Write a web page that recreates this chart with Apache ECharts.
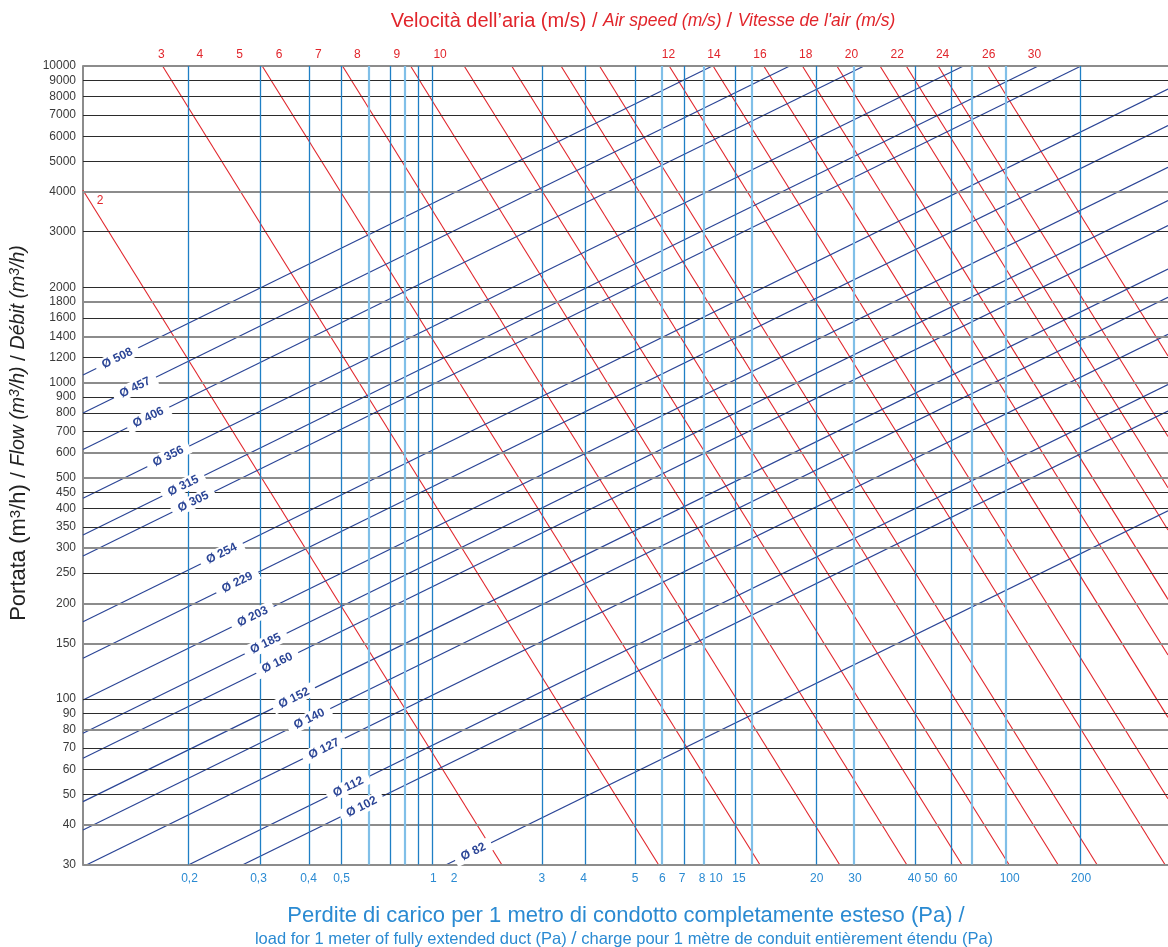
<!DOCTYPE html>
<html><head><meta charset="utf-8">
<script src="https://cdn.jsdelivr.net/npm/echarts/dist/echarts.min.js"></script>
<style>html,body{margin:0;padding:0;background:#fff}#c{width:1168px;height:947px}</style>
</head><body><div id="c"></div>
<script>
// ---------- DATA ----------
// Flow axis (m3/h) tick values
const flowTicks = [10000,9000,8000,7000,6000,5000,4000,3000,2000,1800,1600,1400,1200,1000,900,800,700,600,500,450,400,350,300,250,200,150,100,90,80,70,60,50,40,30];
// Pressure-loss axis: vertical grid lines (Pa, on the chart's log scale)
const pressureGrid = [0.1414,0.2459,0.368,0.4834,0.598,0.714,0.801,0.891,1.005,2.407,3.419,5.113,6.33,7.57,8.86,11.44,13.02,21.95,29.7,48.6,64.9,76.7,100.6,184.0];
// Pressure-loss tick labels as printed, and where they are printed
const pressureLabels = ['0,2','0,3','0,4','0,5','1','2','3','4','5','6','7','8','10','15','20','30','40','50','60','100','200'];
const pressureLabelAt = [0.1414,0.2463,0.3683,0.4803,1.005,1.188,2.41,3.37,5.1,6.35,7.44,8.74,9.78,11.77,22.0,29.9,48.3,55.2,64.6,103.9,184.5];
// Duct diameters: start / end points [Pa, m3/h] and label point
const diameters = ['Ø 508','Ø 457','Ø 406','Ø 356','Ø 315','Ø 305','Ø 254','Ø 229','Ø 203','Ø 185','Ø 160','Ø 152','Ø 140','Ø 127','Ø 112','Ø 102','Ø 82'];
const ductStart = [[0.06,1056],[0.06,801],[0.06,614.2],[0.06,430.7],[0.06,329.8],[0.06,283.1],[0.06,175.5],[0.06,134.5],[0.06,99.3],[0.06,77.9],[0.06,64.96],[0.06,47.4],[0.06,38.56],[0.0621,30],[0.1411,30],[0.218,30],[1.12,30]];
const ductEnd = [[9.492,10000],[17.69,10000],[32.18,10000],[71.6,10000],[130.7,10000],[184.5,10000],[371.4,8459],[371.4,6481],[371.4,4786],[371.4,3756],[371.4,3131],[371.4,2284],[371.4,1859],[371.4,1419],[371.4,985.5],[371.4,812.6],[371.4,393.3]];
const ductLabelAt = [[0.07906,1193],[0.09119,964.3],[0.1015,775.6],[0.1192,584.3],[0.1345,471.8],[0.1458,419.9],[0.1832,288.1],[0.2077,233.4],[0.2350,182.0],[0.2610,149.6],[0.2865,130.0],[0.3278,100.7],[0.3707,86.5],[0.4172,69.6],[0.5073,52.76],[0.5651,45.62],[1.387,32.88]];
// Air speed lines (m/s): start / end points [Pa, m3/h] and label point
const speeds = [2,3,4,5,6,7,8,9,10,12,14,16,18,20,22,24,26,30];
const speedStart = [[0.06,4050],[0.1138,10000],[0.2537,10000],[0.4842,10000],[0.8375,10000],[1.289,10000],[1.889,10000],[2.810,10000],[3.830,10000],[6.711,10000],[9.553,10000],[14.36,10000],[19.60,10000],[25.87,10000],[36.60,10000],[45.18,10000],[58.41,10000],[87.27,10000]];
const speedEnd = [[1.743,30],[6.152,30],[13.91,30],[26.42,30],[45.33,30],[70.69,30],[103.3,30],[153.2,30],[209.7,30],[362.3,30],[371.4,48.4],[371.4,87.5],[371.4,137.7],[371.4,206.4],[371.4,342.0],[371.4,464.9],[371.4,675.5],[371.4,1213]];
const speedLabelAt = [[0.0688,3745],[0.1128,10000],[0.1536,10000],[0.2116,10000],[0.2905,10000],[0.3988,10000],[0.5459,10000],[0.7501,10000],[1.062,10000],[6.673,10000],[9.614,10000],[13.93,10000],[20.13,10000],[29.09,10000],[42.03,10000],[60.56,10000],[87.76,10000],[126.9,10000]];

// ---------- STYLE ----------
const FONT = '"Liberation Sans", Arial, Helvetica, sans-serif';
const RED = '#e1252b', NAVY = '#2b4596', BLUE = '#1f7fc5', LIGHT = '#80bfe8', LBL = '#2a8ad2';
const grayFlow = new Set([10000,4000,1800,1400,1000,600,500,300,200,150,80,40,30]);
const lightGridIdx = new Set([4,6,12,14,16,18,21,22]);

const chart = echarts.init(document.getElementById('c'), null, {renderer:'canvas'});
const series = [];

// horizontal grid + flow tick labels
series.push({
  type:'line', data:[], silent:true, z:1,
  markLine:{
    silent:true, symbol:['none','none'], animation:false,
    data: flowTicks.map(v => ({
      yAxis: v,
      lineStyle: grayFlow.has(v) ? {color:'#8c8c8c', width:2, type:'solid'} : {color:'#2b2b2b', width:1.2, type:'solid'},
      label: {show:true, position:'start', formatter:String(v), color:'#3a3a3a', fontSize:12, fontFamily:FONT, distance:7}
    }))
  }
});
// vertical grid
series.push({
  type:'line', data:[], silent:true, z:1,
  markLine:{
    silent:true, symbol:['none','none'], animation:false,
    data: pressureGrid.map((v,i) => ({
      xAxis: v,
      lineStyle: lightGridIdx.has(i) ? {color:LIGHT, width:2.2, type:'solid'} : {color:BLUE, width:1.3, type:'solid'},
      label:{show:false}
    }))
  }
});
// red speed lines
speeds.forEach((s,i) => {
  series.push({type:'line', name:'v'+s, data:[speedStart[i], speedEnd[i]], symbol:'none', silent:true, z:3,
    lineStyle:{color:RED, width:1.1}});
});
// blue duct lines
diameters.forEach((d,i) => {
  series.push({type:'line', name:d, data:[ductStart[i], ductEnd[i]], symbol:'none', silent:true, z:3,
    lineStyle:{color:NAVY, width:1.2}});
});
// duct labels
series.push({
  type:'scatter', z:10, symbolSize:0, clip:false, silent:true, itemStyle:{opacity:1},
  data: diameters.map((d,i) => ({name:d, value:ductLabelAt[i]})),
  label:{show:true, opacity:1, position:'inside', formatter:'{b}', rotate:26, color:NAVY, fontWeight:'bold',
    fontSize:12, fontFamily:FONT, backgroundColor:'#ffffff', padding:[1,7]}
});
// speed labels
series.push({
  type:'scatter', z:10, symbolSize:0, clip:false, silent:true, itemStyle:{opacity:1},
  data: speeds.map((s,i) => ({name:String(s), value:speedLabelAt[i],
    label: speedLabelAt[i][1] < 10000 ? {position:'inside'} : {position:'top', distance:5}})),
  label:{show:true, opacity:1, formatter:'{b}', color:RED, fontSize:12, fontFamily:FONT}
});
// pressure labels
series.push({
  type:'scatter', z:10, symbolSize:0, clip:false, silent:true, itemStyle:{opacity:1},
  data: pressureLabels.map((t,i) => ({name:t, value:[pressureLabelAt[i], 30]})),
  label:{show:true, opacity:1, position:'bottom', distance:8, formatter:'{b}', color:LBL, fontSize:12, fontFamily:FONT}
});

const option = {
  animation:false,
  backgroundColor:'#ffffff',
  textStyle:{fontFamily:FONT},
  grid:{left:83, right:0, top:66, bottom:82.5, containLabel:false},
  xAxis:{type:'log', logBase:10, min:0.06, max:371.4,
    axisLine:{show:true, onZero:false, lineStyle:{color:'#8c8c8c', width:2}},
    axisTick:{show:false}, axisLabel:{show:false}, splitLine:{show:false}},
  yAxis:{type:'log', logBase:10, min:30, max:10000,
    axisLine:{show:true, onZero:false, lineStyle:{color:'#8c8c8c', width:2}},
    axisTick:{show:false}, axisLabel:{show:false}, splitLine:{show:false}},
  series: series,
  graphic:[
    {type:'text', x:643, y:21, silent:true, style:{
      text:'{a|Velocità dell’aria (m/s) }{s|/ }{b|Air speed (m/s) }{s|/ }{b|Vitesse de l\'air (m/s)}',
      align:'center', verticalAlign:'middle',
      rich:{
        a:{fontSize:20, fill:RED, fontFamily:FONT},
        s:{fontSize:20, fill:RED, fontFamily:FONT},
        b:{fontSize:17.5, fill:RED, fontFamily:FONT, fontStyle:'italic'}
      }}},
    {type:'text', x:19, y:433, rotation:Math.PI/2, silent:true, style:{
      text:'{a|Portata (m}{sa|3}{a|/h) }{s|/ }{b|Flow (m}{sb|3}{b|/h) }{s|/ }{b|Débit (m}{sb|3}{b|/h)}',
      align:'center', verticalAlign:'middle',
      rich:{
        a:{fontSize:22, fill:'#222', fontFamily:FONT},
        sa:{fontSize:15, fill:'#222', fontFamily:FONT, verticalAlign:'top'},
        s:{fontSize:21, fill:'#222', fontFamily:FONT},
        b:{fontSize:19.5, fill:'#222', fontFamily:FONT, fontStyle:'italic'},
        sb:{fontSize:14, fill:'#222', fontFamily:FONT, fontStyle:'italic', verticalAlign:'top'}
      }}},
    {type:'text', x:626, y:916, silent:true, style:{
      text:'Perdite di carico per 1 metro di condotto completamente esteso (Pa) /',
      align:'center', verticalAlign:'middle', fill:LBL, fontSize:22, fontFamily:FONT}},
    {type:'text', x:624, y:939, silent:true, style:{
      text:'{a|load for 1 meter of fully extended duct (Pa) }{s|/}{a| charge pour 1 mètre de conduit entièrement étendu (Pa)}',
      align:'center', verticalAlign:'middle',
      rich:{
        a:{fontSize:16.5, fill:LBL, fontFamily:FONT},
        s:{fontSize:19, fill:LBL, fontFamily:FONT}
      }}}
  ]
};
chart.setOption(option);
</script>
</body></html>
